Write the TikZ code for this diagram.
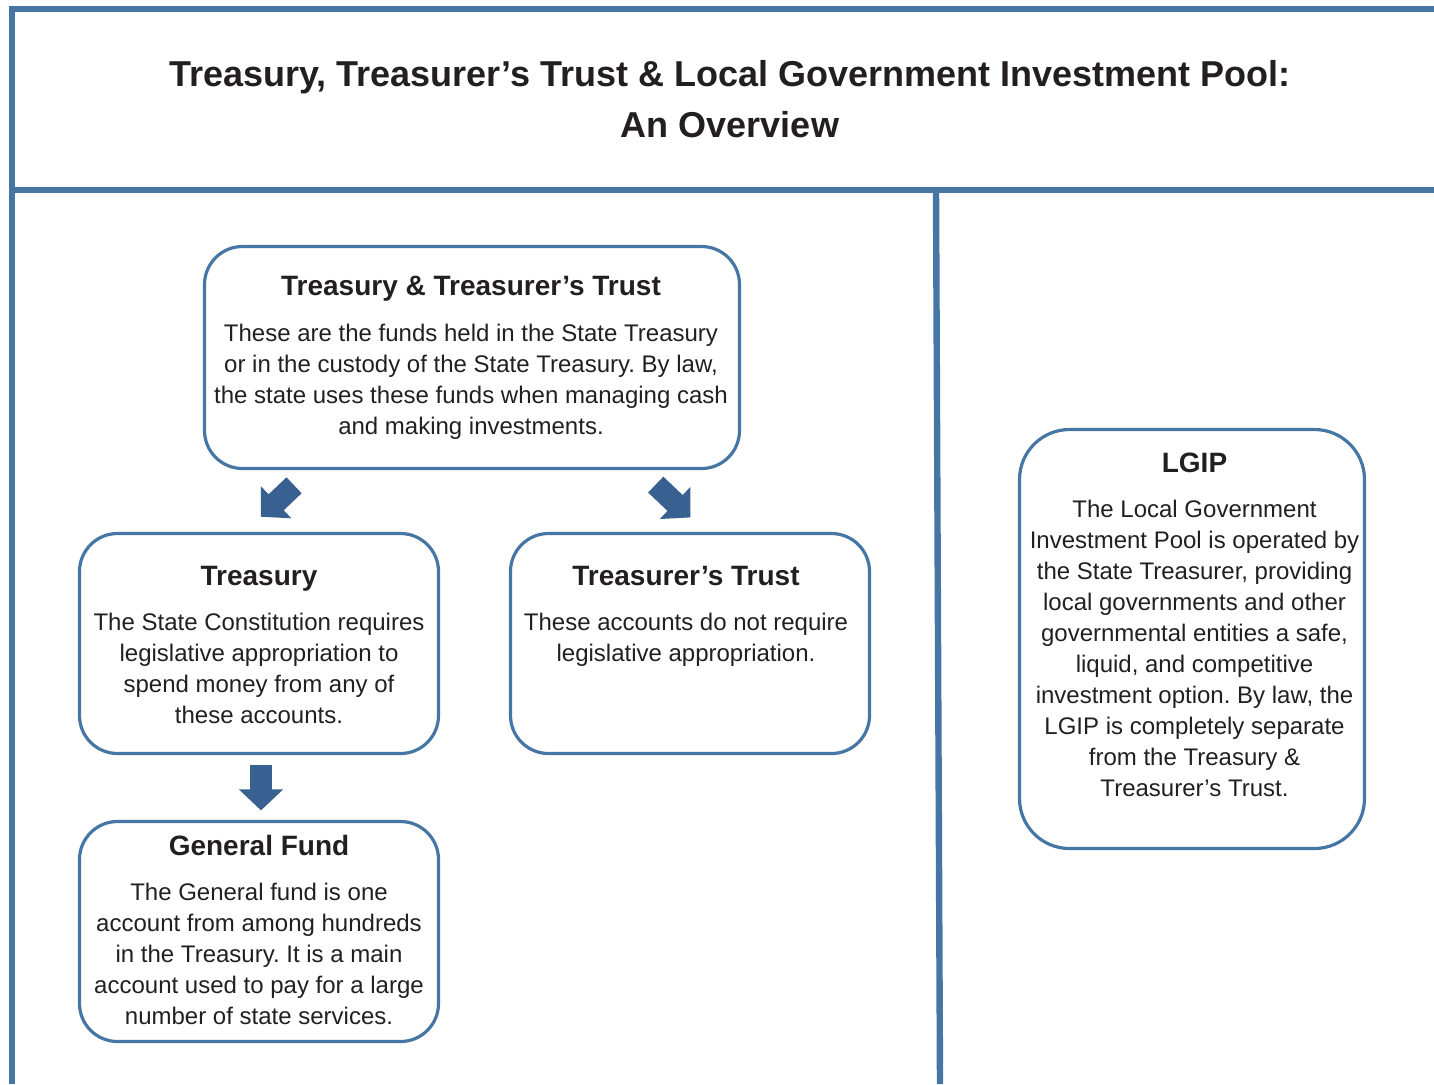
\documentclass[tikz,border=0pt]{standalone}
\usepackage{fontspec}
\setmainfont{Liberation Sans}
\usetikzlibrary{arrows.meta,calc,positioning}

\definecolor{frameblue}{RGB}{70,118,163}
\definecolor{arrowblue}{RGB}{56,97,145}
\definecolor{inkgray}{RGB}{35,31,32}

\tikzset{
  frame/.style={line width=3.2pt, draw=frameblue, line join=miter},
  card/.style={draw=frameblue, line width=1.6pt, rounded corners=19pt, inner sep=0pt},
  cardtext/.style={align=center, inner sep=0pt, text=inkgray, font=\fontsize{12}{15.5}\selectfont},
  bigarrow/.style={draw=arrowblue, line width=11pt, -{Triangle[width=21.5pt,length=10.5pt,fill=arrowblue]}},
}
\newcommand{\cardtitle}[1]{{\fontsize{14}{17}\selectfont\bfseries #1}\\[7.25pt]}
\frenchspacing

\begin{document}
\begin{tikzpicture}[x=0.5pt,y=-0.5pt]
    \useasboundingbox (0,0) rectangle (1434,1084);
    % frame
    \draw[frame] (12,1084) -- (12,9) -- (1434,9);
    \draw[frame] (12,190) -- (1434,190);
    \draw[frame] (936,190) -- (940,1084);
    % heading
    \node[align=center, text=inkgray, font=\fontsize{18}{25.5}\selectfont\bfseries] (heading) at (730,99)
        {Treasury, Treasurer’s Trust \& Local Government Investment Pool:\\An Overview};
    % cards
    \node[card, minimum width=267.5pt, minimum height=111pt] (pool) at (472,357.5) {};
    \node[card, minimum width=179.5pt, minimum height=110pt] (treasury) at (259,643.5) {};
    \node[card, minimum width=179.5pt, minimum height=110pt] (trust) at (690,643.5) {};
    \node[card, minimum width=179.5pt, minimum height=110pt] (genfund) at (259,931.5) {};
    \node[card, rounded corners=25pt, minimum width=172.5pt, minimum height=209.5pt] (lgip) at (1192,639) {};
    % texts
    \node[cardtext, below=15.5pt of pool.north, xshift=-0.5pt] (pool-text)
        {\cardtitle{Treasury \& Treasurer’s Trust}These are the funds held in the State Treasury\\or in the custody of the State Treasury. By law,\\the state uses these funds when managing cash\\and making investments.};
    \node[cardtext, below=16.75pt of treasury.north] (treasury-text)
        {\cardtitle{Treasury}The State Constitution requires\\legislative appropriation to\\spend money from any of\\these accounts.};
    \node[cardtext, below=16.75pt of trust.north, xshift=-2pt] (trust-text)
        {\cardtitle{Treasurer’s Trust}These accounts do not require\\legislative appropriation.};
    \node[cardtext, below=7.25pt of genfund.north] (genfund-text)
        {\cardtitle{General Fund}The General fund is one\\account from among hundreds\\in the Treasury. It is a main\\account used to pay for a large\\number of state services.};
    \node[cardtext, below=12.25pt of lgip.north, xshift=1.25pt] (lgip-text)
        {\cardtitle{LGIP}The Local Government\\Investment Pool is operated by\\the State Treasurer, providing\\local governments and other\\governmental entities a safe,\\liquid, and competitive\\investment option. By law, the\\LGIP is completely separate\\from the Treasury \&\\Treasurer’s Trust.};
    % arrows
    \draw[bigarrow, shorten <=11pt, shorten >=11pt] ($(pool.south)+(-162,0)$) -- ($(treasury.north)+(-14,0)$);
    \draw[bigarrow, shorten <=10.5pt, shorten >=10.5pt] ($(pool.south)+(168.5,0)$) -- ($(trust.north)+(15.5,0)$);
    \draw[bigarrow, shorten <=4.75pt, shorten >=4.75pt] ($(treasury.south)+(2,0)$) -- ($(genfund.north)+(2,0)$);
\end{tikzpicture}
\end{document}
